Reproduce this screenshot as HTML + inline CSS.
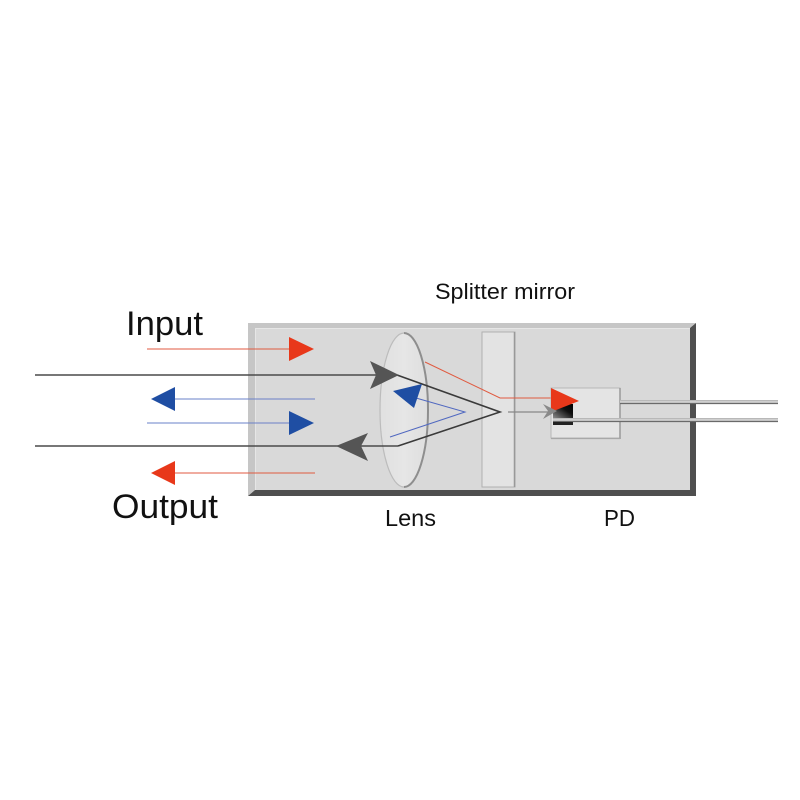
<!DOCTYPE html>
<html><head><meta charset="utf-8"><style>html,body{margin:0;padding:0;background:#fff}svg{display:block}</style></head>
<body>
<svg width="800" height="800" viewBox="0 0 800 800" xmlns="http://www.w3.org/2000/svg">
<defs>
<linearGradient id="lensg" x1="0" x2="1" y1="0" y2="0">
<stop offset="0" stop-color="#e0e0e0"/><stop offset="0.5" stop-color="#e6e6e6"/><stop offset="1" stop-color="#dedede"/>
</linearGradient>
<linearGradient id="sq" x1="0" x2="1" y1="1" y2="0">
<stop offset="0" stop-color="#8a8a8a"/><stop offset="0.6" stop-color="#111"/><stop offset="1" stop-color="#000"/>
</linearGradient>
</defs>
<rect width="800" height="800" fill="#fff"/>
<!-- main beveled box -->
<polygon points="248,323 696,323 690,328 255,328 255,490 248,496" fill="#c6c6c6"/>
<polygon points="696,323 696,496 248,496 255,490 690,490 690,328" fill="#4f4f4f"/>
<rect x="255" y="328" width="435" height="162" fill="#d9d9d9"/>
<line x1="255" y1="328.5" x2="690" y2="328.5" stroke="#e6e6e6" stroke-width="1"/>
<line x1="255.5" y1="328" x2="255.5" y2="490" stroke="#e6e6e6" stroke-width="1"/>
<!-- mirror -->
<rect x="482" y="332" width="33" height="155" fill="#e3e3e3" stroke="#b0b0b0" stroke-width="1"/>
<line x1="514.5" y1="332" x2="514.5" y2="487" stroke="#999" stroke-width="1.5"/>
<!-- lens -->
<ellipse cx="404" cy="410" rx="24" ry="77" fill="url(#lensg)" stroke="#bcbcbc" stroke-width="1.2"/>
<path d="M404,333 A24,77 0 0 1 404,487" fill="none" stroke="#8e8e8e" stroke-width="2"/>
<!-- outside lines -->
<line x1="147" y1="349" x2="292" y2="349" stroke="#e05a40" stroke-width="1"/>
<polygon points="289,337 314,349 289,361" fill="#e8381a"/>
<line x1="35" y1="375" x2="380" y2="375" stroke="#4a4a4a" stroke-width="1.6"/>
<line x1="172" y1="399" x2="315" y2="399" stroke="#6a80c8" stroke-width="1"/>
<polygon points="151,399 175,387 175,411" fill="#1f4ea3"/>
<line x1="147" y1="423" x2="292" y2="423" stroke="#6a80c8" stroke-width="1"/>
<polygon points="289,411 314,423 289,435" fill="#1f4ea3"/>
<line x1="35" y1="446" x2="398" y2="446" stroke="#4a4a4a" stroke-width="1.6"/>
<line x1="172" y1="473" x2="315" y2="473" stroke="#e05a40" stroke-width="1"/>
<polygon points="151,473 175,461 175,485" fill="#e8381a"/>
<!-- inner dark path -->
<polyline points="397,375 500,412 398,446" fill="none" stroke="#3a3a3a" stroke-width="1.6"/>
<polygon points="370,361 399,375 370,389 376,375" fill="#555"/>
<polygon points="336,446 368,433 361,446 368,461" fill="#555"/>
<!-- blue inner -->
<polyline points="416,398 465,412 390,437" fill="none" stroke="#5068c0" stroke-width="1"/>
<polygon points="393,391 422,384 414,408" fill="#1f4ea3"/>
<!-- red inner -->
<polyline points="425,362 500,398 552,398" fill="none" stroke="#e05a40" stroke-width="1"/>
<!-- gray small -->
<line x1="508" y1="412" x2="548" y2="412" stroke="#888" stroke-width="1.2"/>
<!-- PD box -->
<rect x="551" y="388" width="69" height="50" fill="#e4e4e4" stroke="#b8b8b8" stroke-width="1"/>
<line x1="620" y1="388" x2="620" y2="439" stroke="#999" stroke-width="1.5"/>
<line x1="551" y1="438.5" x2="620" y2="438.5" stroke="#a8a8a8" stroke-width="1.2"/>
<!-- pins -->
<rect x="620" y="400" width="158" height="4" fill="#cfcfcf"/>
<line x1="620" y1="403.5" x2="778" y2="403.5" stroke="#6a6a6a" stroke-width="1.2"/>
<line x1="620" y1="400.3" x2="778" y2="400.3" stroke="#aaa" stroke-width="0.6"/>
<rect x="553" y="418" width="225" height="4" fill="#cfcfcf"/>
<line x1="553" y1="421.5" x2="778" y2="421.5" stroke="#6a6a6a" stroke-width="1.2"/>
<line x1="553" y1="418.3" x2="778" y2="418.3" stroke="#aaa" stroke-width="0.6"/>
<!-- detector -->
<rect x="553" y="404" width="20" height="14" fill="url(#sq)"/>
<rect x="553" y="422" width="20" height="3" fill="#222"/>
<polygon points="551,388 579,401 551,412" fill="#e8381a"/>
<polygon points="543,404 557,411 543,419 548,411" fill="#8a8a8a"/>
<!-- labels -->
<g font-family="Liberation Sans, Arial, sans-serif" fill="#111">
<text x="435" y="299" font-size="22" textLength="140" lengthAdjust="spacingAndGlyphs">Splitter mirror</text>
<text x="126" y="335" font-size="34" textLength="77" lengthAdjust="spacingAndGlyphs">Input</text>
<text x="112" y="518" font-size="34" textLength="106" lengthAdjust="spacingAndGlyphs">Output</text>
<text x="385" y="526" font-size="23" textLength="51" lengthAdjust="spacingAndGlyphs">Lens</text>
<text x="604" y="526" font-size="23" textLength="31" lengthAdjust="spacingAndGlyphs">PD</text>
</g>
</svg>
</body></html>
